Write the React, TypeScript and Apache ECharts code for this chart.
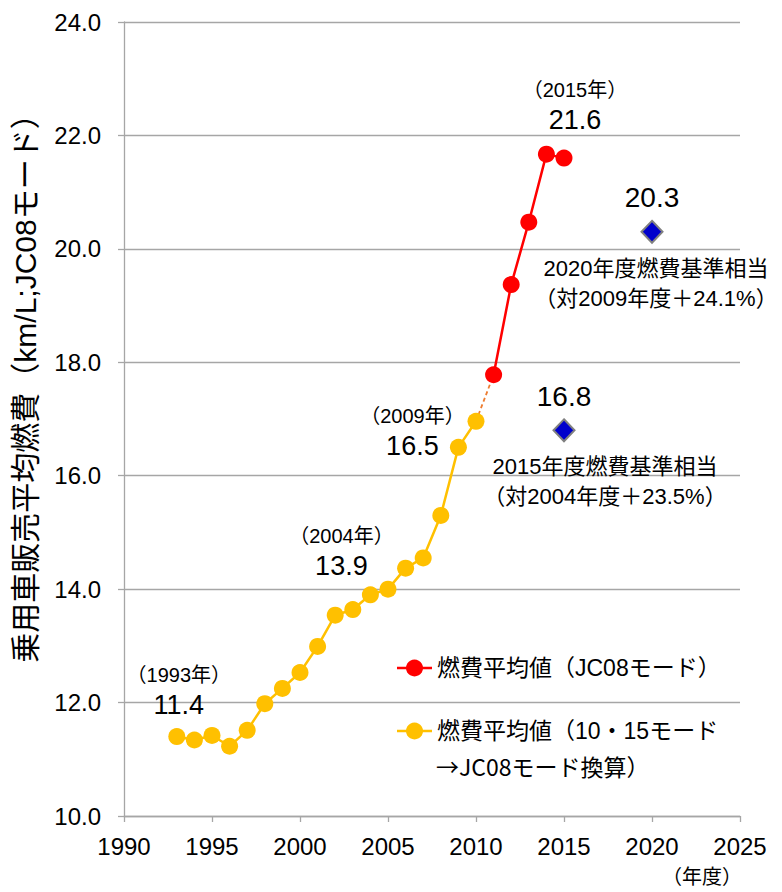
import React, { useEffect, useRef } from "react";
import * as echarts from "echarts";

// 10・15モード実績をJC08モードに換算した平均燃費（年度別）
const convertedYears = [1993, 1994, 1995, 1996, 1997, 1998, 1999, 2000, 2001, 2002, 2003, 2004, 2005, 2006, 2007, 2008, 2009, 2010];
const convertedValues = [11.4, 11.34, 11.42, 11.23, 11.51, 11.98, 12.25, 12.53, 12.99, 13.54, 13.64, 13.9, 14.0, 14.37, 14.55, 15.3, 16.5, 16.96];

// JC08モード実測の平均燃費
const jc08Years = [2011, 2012, 2013, 2014, 2015];
const jc08Values = [17.78, 19.37, 20.47, 21.67, 21.6];

// 燃費基準相当値
const standardYears = [2015, 2020];
const standardValues = [16.8, 20.3];
const standardNotes = ["2015年度燃費基準相当\n（対2004年度＋23.5%）", "2020年度燃費基準相当\n（対2009年度＋24.1%）"];

// 年次注記を付ける点
const taggedConvertedYears = [1993, 2004, 2009];
const taggedJc08Years = [2015];

// 軸目盛
const xTicks = [1990, 1995, 2000, 2005, 2010, 2015, 2020, 2025];
const yTicks = [10, 12, 14, 16, 18, 20, 22, 24];

const legendJc08 = "燃費平均値（JC08モード）";
const legendConvertedLine1 = "燃費平均値（10・15モード";
const legendConvertedLine2 = "→JC08モード換算）";
const yAxisTitle = "乗用車販売平均燃費（km/L;JC08モード）";
const xAxisUnit = "（年度）";

const FONT = '"Liberation Sans", "Noto Sans CJK JP", sans-serif';
const CJK_FONT = '"Noto Sans CJK JP", sans-serif';
const RED = "#FF0000";
const YELLOW = "#FFC000";
const GRID_GRAY = "#A6A6A6";
const TICK_FONT_SIZE = 24;

// 注記ラベルの配置（点の中心からのずれ）
const tagOffsets: Record<number, [number, number]> = {
  1993: [2, -46],
  2004: [-29, -43],
  2009: [-46, -15],
  2015: [11, -52],
};
const noteOffsets: [number, number][] = [
  [41, 51],
  [4, 52],
];

const tagLabel = (year: number) => ({
  show: true,
  position: "inside",
  offset: tagOffsets[year],
  color: "#000",
  fontFamily: FONT,
  align: "center",
  verticalAlign: "middle",
  formatter: (p: any) => `{y|（${year}年）}\n{v|${Number(p.value[1]).toFixed(1)}}`,
  rich: {
    y: { fontSize: 20, lineHeight: 28, fontFamily: FONT, color: "#000", align: "center" },
    v: { fontSize: 27, lineHeight: 32, fontFamily: FONT, color: "#000", align: "center" },
  },
});

function buildPoints(years: number[], values: number[], tagged: number[]) {
  return years.map((y, i) => {
    const item: any = { value: [y, values[i]] };
    if (tagged.includes(y)) item.label = tagLabel(y);
    return item;
  });
}

export default function App() {
  const ref = useRef<HTMLDivElement>(null);

  useEffect(() => {
    document.body.style.margin = "0";
    const chart = echarts.init(ref.current!, undefined, { renderer: "svg" });
    const lastConverted = convertedValues.length - 1;

    chart.setOption({
      animation: false,
      backgroundColor: "#FFFFFF",
      textStyle: { fontFamily: FONT },
      grid: { left: 124, right: 42, top: 22, bottom: 76, containLabel: false },
      xAxis: {
        type: "value",
        min: xTicks[0],
        max: xTicks[xTicks.length - 1],
        interval: xTicks[1] - xTicks[0],
        axisLine: { show: true, lineStyle: { color: GRID_GRAY, width: 1.3 } },
        axisTick: { show: true, inside: false, length: 6, lineStyle: { color: GRID_GRAY, width: 1.3 } },
        splitLine: { show: false },
        axisLabel: {
          margin: 18,
          fontSize: TICK_FONT_SIZE,
          color: "#000",
          fontFamily: FONT,
          formatter: (v: number) => String(v),
        },
      },
      yAxis: {
        type: "value",
        min: yTicks[0],
        max: yTicks[yTicks.length - 1],
        interval: yTicks[1] - yTicks[0],
        axisLine: { show: true, lineStyle: { color: GRID_GRAY, width: 1.3 } },
        axisTick: { show: true, inside: false, length: 6, lineStyle: { color: GRID_GRAY, width: 1.3 } },
        splitLine: { show: true, lineStyle: { color: GRID_GRAY, width: 1.3 } },
        axisLabel: {
          margin: 23,
          fontSize: TICK_FONT_SIZE,
          color: "#000",
          fontFamily: FONT,
          formatter: (v: number) => v.toFixed(1),
        },
      },
      series: [
        {
          name: "換算接続",
          type: "line",
          data: [
            [convertedYears[lastConverted], convertedValues[lastConverted]],
            [jc08Years[0], jc08Values[0]],
          ],
          symbol: "none",
          lineStyle: { color: "#ED7D31", width: 1.8, type: [4, 3] },
          z: 1,
          silent: true,
        },
        {
          name: legendConvertedLine1 + legendConvertedLine2,
          type: "line",
          data: buildPoints(convertedYears, convertedValues, taggedConvertedYears),
          symbol: "circle",
          symbolSize: 17,
          itemStyle: { color: YELLOW, borderWidth: 0 },
          lineStyle: { color: YELLOW, width: 2.5 },
          z: 3,
        },
        {
          name: legendJc08,
          type: "line",
          data: buildPoints(jc08Years, jc08Values, taggedJc08Years),
          symbol: "circle",
          symbolSize: 17,
          itemStyle: { color: RED, borderWidth: 0 },
          lineStyle: { color: RED, width: 2.5 },
          z: 3,
        },
        {
          name: "燃費基準",
          type: "scatter",
          data: standardYears.map((y, i) => [y, standardValues[i]]),
          symbol: "diamond",
          symbolSize: [21, 22],
          itemStyle: { color: "#0000CC", borderColor: "#808080", borderWidth: 2, opacity: 1 },
          label: {
            show: true,
            position: "inside",
            offset: [0, -34],
            fontSize: 28,
            color: "#000",
            fontFamily: FONT,
            formatter: (p: any) => Number(p.value[1]).toFixed(1),
          },
          z: 4,
        },
        {
          name: "燃費基準注記",
          type: "scatter",
          data: standardYears.map((y, i) => ({
            value: [y, standardValues[i]],
            label: { offset: noteOffsets[i] },
          })),
          symbolSize: 1,
          itemStyle: { color: "rgba(0,0,0,0)", opacity: 1 },
          silent: true,
          label: {
            show: true,
            position: "inside",
            fontSize: 22,
            lineHeight: 30,
            align: "center",
            verticalAlign: "middle",
            color: "#000",
            fontFamily: FONT,
            formatter: (p: any) => standardNotes[p.dataIndex],
          },
          z: 4,
        },
      ],
      graphic: [
        {
          type: "text",
          x: 25,
          y: 381,
          rotation: Math.PI / 2,
          style: {
            text: yAxisTitle,
            fontSize: 30,
            fontFamily: FONT,
            fill: "#000",
            align: "center",
            verticalAlign: "middle",
            textAlign: "center",
            textVerticalAlign: "middle",
          },
        },
        {
          type: "text",
          right: 40,
          top: 867,
          style: { text: xAxisUnit, fontSize: 20, fontFamily: FONT, fill: "#000" },
        },
        // 凡例
        { type: "line", shape: { x1: 397, y1: 668, x2: 432, y2: 668 }, style: { stroke: RED, lineWidth: 2.5 } },
        { type: "circle", shape: { cx: 414.5, cy: 668, r: 8.5 }, style: { fill: RED } },
        {
          type: "text",
          x: 437,
          y: 668,
          style: {
            text: legendJc08,
            fontSize: 23,
            fontFamily: FONT,
            fill: "#000",
            align: "left",
            verticalAlign: "middle",
            textAlign: "left",
            textVerticalAlign: "middle",
          },
        },
        { type: "line", shape: { x1: 397, y1: 731, x2: 432, y2: 731 }, style: { stroke: YELLOW, lineWidth: 2.5 } },
        { type: "circle", shape: { cx: 414.5, cy: 731, r: 8.5 }, style: { fill: YELLOW } },
        {
          type: "text",
          x: 437,
          y: 731,
          style: {
            text: legendConvertedLine1,
            fontSize: 23,
            fontFamily: FONT,
            fill: "#000",
            align: "left",
            verticalAlign: "middle",
            textAlign: "left",
            textVerticalAlign: "middle",
          },
        },
        {
          type: "text",
          x: 436,
          y: 766,
          style: {
            text: legendConvertedLine2,
            fontSize: 23,
            fontFamily: CJK_FONT,
            fill: "#000",
            align: "left",
            verticalAlign: "middle",
            textAlign: "left",
            textVerticalAlign: "middle",
          },
        },
      ],
    });

    return () => chart.dispose();
  }, []);

  return (
    <div
      ref={ref}
      style={{ position: "fixed", left: 0, top: 0, width: 782, height: 892, background: "#fff" }}
    />
  );
}
